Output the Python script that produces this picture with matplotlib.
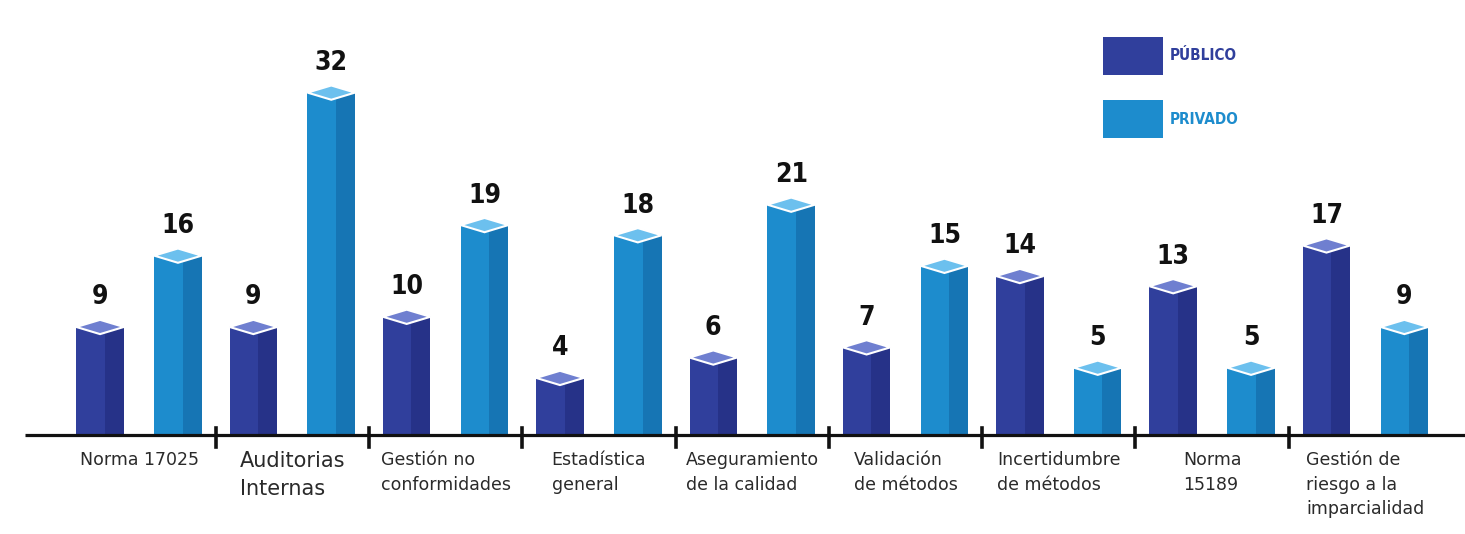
import matplotlib
matplotlib.use("Agg")
import matplotlib.pyplot as plt
from matplotlib.patches import Polygon, Rectangle
import numpy as np

# datos
categorias = ["Norma 17025", "Auditorias\nInternas", "Gestión no\nconformidades",
              "Estadística\ngeneral", "Aseguramiento\nde la calidad", "Validación\nde métodos",
              "Incertidumbre\nde métodos", "Norma\n15189", "Gestión de\nriesgo a la\nimparcialidad"]
publico = [9, 9, 10, 4, 6, 7, 14, 13, 17]
privado = [16, 32, 19, 18, 21, 15, 5, 5, 9]
series = ["PÚBLICO", "PRIVADO"]

# colores: frente claro, lado oscuro, tapa
col_pub = ("#303f9c", "#263288", "#6f7fd0")
col_pri = ("#1d8ccd", "#1675b4", "#6cc0ee")

K = 10.19      # px por unidad
base = 1.6     # la base de las barras queda un poco por debajo de 0
w = 0.31
off = 0.254
cap = 0.7
narrow = ['DejaVu Sans Condensed', 'Liberation Sans Narrow', 'DejaVu Sans']

fig = plt.figure(figsize=(14.65, 5.34), dpi=100)
ax = fig.add_axes([0, 0, 1, 1])
ax.set_xlim(-139 / 153.3, (1465 - 139) / 153.3)
ax.set_ylim(-base - 99 / K, -base + 435 / K)
ax.axis('off')

x = np.arange(len(categorias))

def pilar(xs, vals, cols):
    vals = np.array(vals)
    # cara frontal
    ax.bar(xs, vals + base, w, bottom=-base, color=cols[0], zorder=2)
    # cara lateral mas oscura
    ax.bar(xs + w * 0.3, vals + base, w * 0.4, bottom=-base, color=cols[1], zorder=2)
    for xi, v in zip(xs, vals):
        ax.add_patch(Polygon([(xi - w / 2, v), (xi, v + cap), (xi + w / 2, v), (xi, v - cap)],
                             closed=True, facecolor=cols[2], edgecolor="white", lw=1.5, zorder=3))
        ax.text(xi, v + 2.9, str(v), ha='center', va='center', fontsize=19, fontweight='bold',
                family=narrow, fontstretch='condensed', color="#111111", zorder=4)

pilar(x - off, publico, col_pub)
pilar(x + off, privado, col_pri)

# linea base y separadores
ax.plot([(25 - 139) / 153.3, ax.get_xlim()[1]], [-base, -base], color="#111111", lw=2.3,
        zorder=5, solid_capstyle='butt')
for s in x[:-1] + 0.5:
    ax.plot([s, s], [-base + 0.7, -base - 1.2], color="#111111", lw=2.6, zorder=5)

for i, c in enumerate(categorias):
    fs = 15 if i == 1 else 12.5
    ax.text(x[i], -base - 1.6, c, ha='center', va='top', multialignment='left',
            fontsize=fs, color="#2a2a2a", linespacing=1.45)

# leyenda manual
for j, (nom, cols) in enumerate(zip(series, [col_pub, col_pri])):
    y0 = 1 - (75 + j * 63) / 534
    fig.patches.append(Rectangle((1103 / 1465, y0), 60 / 1465, 38 / 534,
                                 transform=fig.transFigure, facecolor=cols[0], edgecolor='none'))
    fig.text(1170 / 1465, y0 + 19 / 534, nom, ha='left', va='center', fontsize=11,
             fontweight='bold', family=narrow, fontstretch='condensed', color=cols[0])

fig.savefig("out.png", dpi=100, facecolor="white")
